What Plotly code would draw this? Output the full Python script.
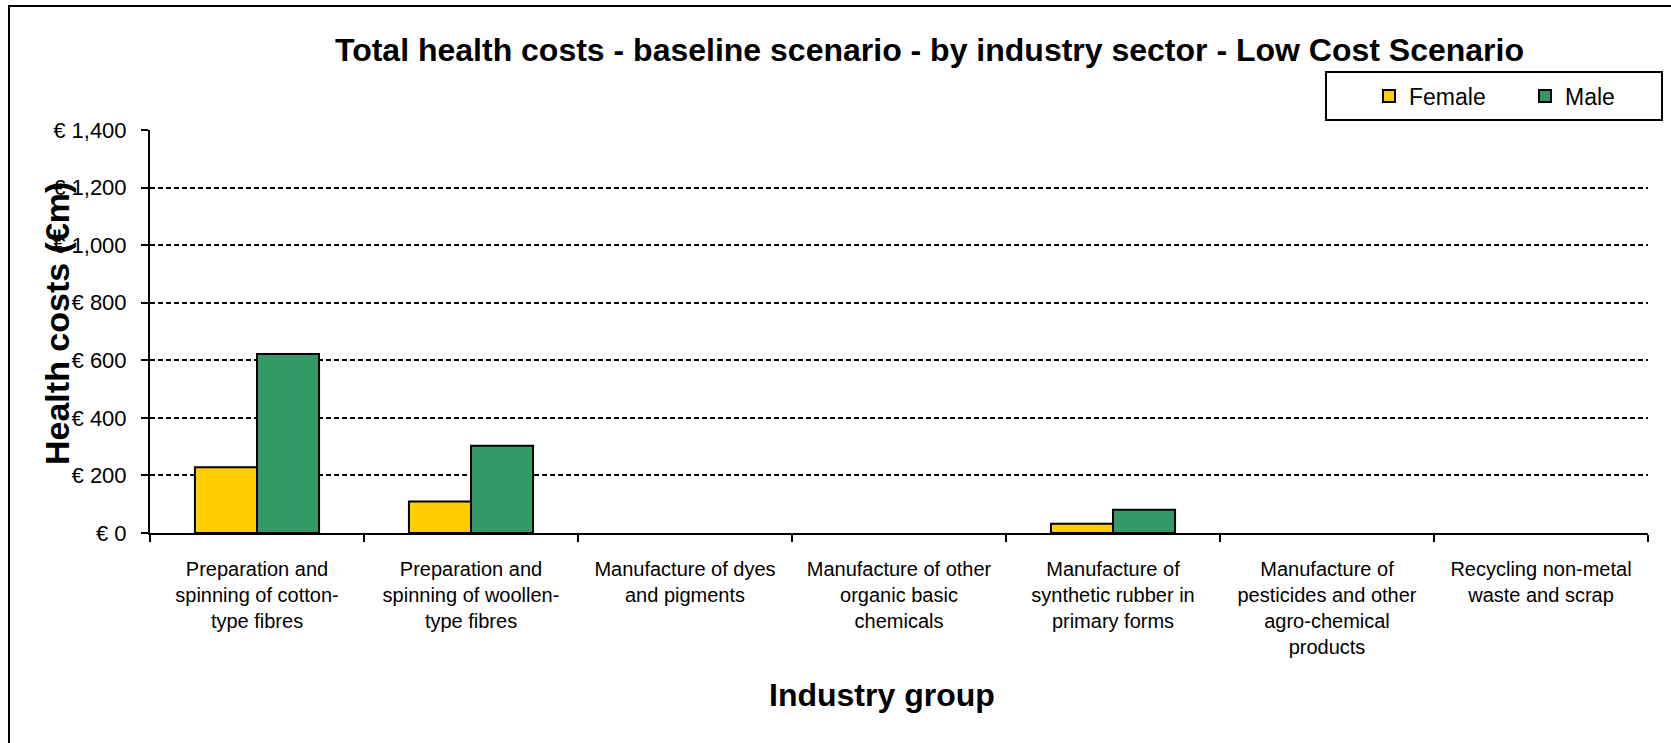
import plotly.graph_objects as go

categories = [
    "Preparation and<br>spinning of cotton-<br>type fibres",
    "Preparation and<br>spinning of woollen-<br>type fibres",
    "Manufacture of dyes<br>and pigments",
    "Manufacture of other<br>organic basic<br>chemicals",
    "Manufacture of<br>synthetic rubber in<br>primary forms",
    "Manufacture of<br>pesticides and other<br>agro-chemical<br>products",
    "Recycling non-metal<br>waste and scrap",
]
female = [228, 109, 0, 0, 32, 0, 0]
male = [622, 303, 0, 0, 81, 0, 0]
y_tickvals = [0, 200, 400, 600, 800, 1000, 1200, 1400]
y_ticktext = ["€ 0", "€ 200", "€ 400", "€ 600", "€ 800", "€ 1,000", "€ 1,200", "€ 1,400"]

W, H = 1671, 743
L, R, T, B = 150, 1648, 130, 533
pw, ph = R - L, B - T

def px(x):
    return (x - L) / pw

def py(y):
    return (B - y) / ph

FONT = "Liberation Sans, Arial, sans-serif"

def outline(vals):
    return [2 if v > 0 else 0 for v in vals]

fig = go.Figure()
fig.add_trace(go.Bar(name="Female", x=categories, y=female,
                     marker=dict(color="#FFCC00", line=dict(color="black", width=outline(female)))))
fig.add_trace(go.Bar(name="Male", x=categories, y=male,
                     marker=dict(color="#339966", line=dict(color="black", width=outline(male)))))

fig.update_layout(
    width=W, height=H,
    margin=dict(l=L, r=W - R, t=T, b=H - B, autoexpand=False),
    paper_bgcolor="white", plot_bgcolor="white",
    barmode="group", bargap=0.42, bargroupgap=0,
    font=dict(family=FONT, color="black"),
    title=dict(text="Total health costs - baseline scenario - by industry sector - Low Cost Scenario",
               font=dict(family=FONT, size=32, weight="bold", color="black"),
               xref="paper", x=px(929.5), xanchor="center",
               yref="container", y=1 - 50 / H, yanchor="middle"),
    showlegend=True,
    legend=dict(orientation="h", x=px(1369), xanchor="left", y=py(96), yanchor="middle",
                font=dict(family=FONT, size=23, color="black"),
                bgcolor="rgba(0,0,0,0)", borderwidth=0,
                entrywidth=111, entrywidthmode="pixels", traceorder="normal"),
    xaxis=dict(showline=True, linecolor="black", linewidth=2,
               ticks="outside", tickson="boundaries", ticklen=7, tickwidth=2, tickcolor="black",
               tickfont=dict(family=FONT, size=20, color="black"),
               ticklabelstandoff=17,
               showgrid=False, zeroline=False, automargin=False),
    yaxis=dict(range=[0, 1400], tickvals=y_tickvals, ticktext=y_ticktext,
               showline=True, linecolor="black", linewidth=2,
               ticks="outside", ticklen=7, tickwidth=2, tickcolor="black",
               tickfont=dict(family=FONT, size=22, color="black"),
               ticklabelstandoff=10,
               showgrid=True, gridcolor="black", gridwidth=1.5, griddash="5px,3px",
               zeroline=False, automargin=False),
    shapes=[
        dict(type="rect", xref="paper", yref="paper",
             x0=px(9), x1=px(1690), y0=py(760), y1=py(6),
             line=dict(color="black", width=2), fillcolor="rgba(0,0,0,0)", layer="below"),
        dict(type="rect", xref="paper", yref="paper",
             x0=px(1326), x1=px(1662), y0=py(120), y1=py(72),
             line=dict(color="black", width=2), fillcolor="white", layer="below"),
    ],
    annotations=[
        dict(text="Health costs (€m)", xref="paper", yref="paper", x=px(57), y=py(324),
             xanchor="center", yanchor="middle", textangle=-90, showarrow=False,
             font=dict(family=FONT, size=34, weight="bold", color="black")),
        dict(text="Industry group", xref="paper", yref="paper", x=px(882), y=py(695),
             xanchor="center", yanchor="middle", showarrow=False,
             font=dict(family=FONT, size=32, weight="bold", color="black")),
    ],
)

fig.write_html("out.html")
